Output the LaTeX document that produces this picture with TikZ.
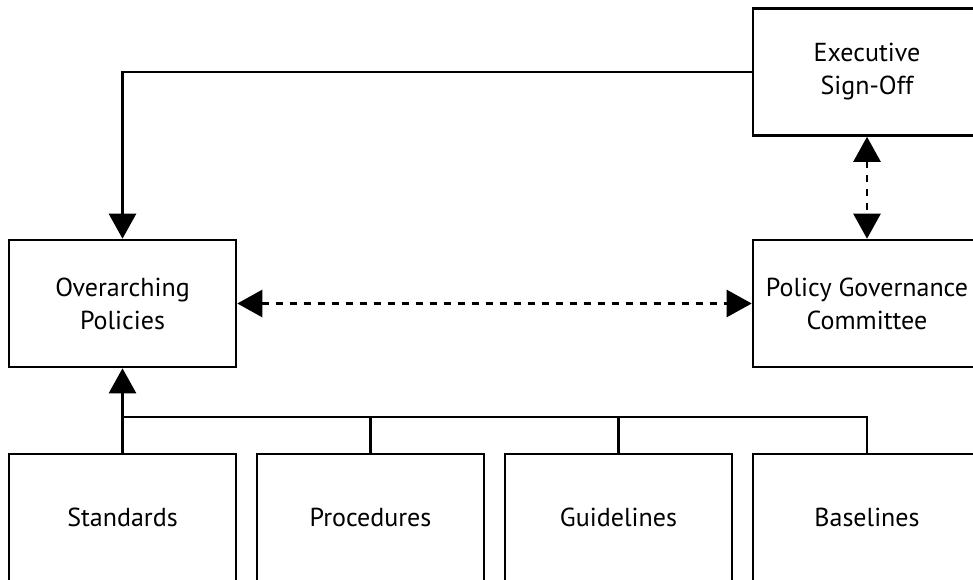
\documentclass[tikz,border=0pt]{standalone}
\usepackage{fontspec}
\setmainfont{PT Sans}
\usetikzlibrary{arrows.meta}
\begin{document}
\begin{tikzpicture}[x=1pt,y=-1pt,
  box/.style={draw=black, line width=2.6pt, fill=white, minimum width=227pt,
    minimum height=127pt, inner sep=0pt, align=center,
    font=\fontsize{26}{33}\selectfont},
  link/.style={line width=2.6pt},
  tip/.style={-{Triangle[length=25pt,width=27pt]}},
  bothtip/.style={{Triangle[length=25pt,width=27pt]}-{Triangle[length=25pt,width=27pt]}},
  dashline/.style={line width=2.6pt, dash pattern=on 7pt off 7pt}]
\clip (0,0) rectangle (973,580);
\fill[white] (0,0) rectangle (973,580);

% upper row
\node[box, minimum width=228pt] (exec) at (867,72) {Executive\\Sign-Off};
\node[box] (over) at (122.5,303.5) {Overarching\\Policies};
\node[box, minimum width=228pt] (pgc) at (867,303.5) {Policy Governance\\Committee};

% lower row
\node[box] (std)   at (122.5,517.5) {Standards};
\node[box] (proc)  at (370.5,517.5) {Procedures};
\node[box] (guide) at (618.5,517.5) {Guidelines};
\node[box, minimum width=228pt] (base) at (867,517.5) {Baselines};

% sign-off feeds the overarching policies
\draw[link, tip] (exec.west) -| (over.north);

% dashed two-way links
\draw[dashline, bothtip] (exec.south) -- (pgc.north);
\draw[dashline, bothtip] (over.east) -- (pgc.west);

% supporting documents bus
\coordinate (bus) at (122.5,417);
\draw[link, tip] (std.north) -- (over.south);
\draw[link] (bus) -| (proc.north);
\draw[link] (bus) -| (guide.north);
\draw[link] (bus) -| (base.north);
\end{tikzpicture}
\end{document}
